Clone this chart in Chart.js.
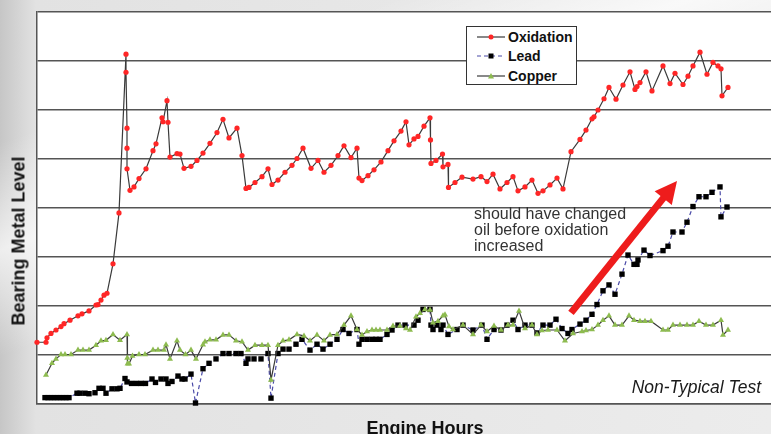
<!DOCTYPE html>
<html lang="en">
<head>
    <meta charset="UTF-8">
    <title>Bearing Metal Level vs Engine Hours</title>
    <script src="https://cdn.jsdelivr.net/npm/chart.js@4"></script>
    <style>
        html, body {
            margin: 0;
            padding: 0;
            width: 771px;
            height: 434px;
            overflow: hidden;
        }
        body {
            position: relative;
            font-family: "Liberation Sans", Arial, sans-serif;
            background-image:
                linear-gradient(160deg, rgba(255,255,255,0) 20%, rgba(255,255,255,0.7) 35%, rgba(255,255,255,0) 50%),
                linear-gradient(to right, #c6c6c6 0px, #e2e2e2 36px, #ececec 100%);
        }
        #chart {
            position: absolute;
            left: 0;
            top: 0;
        }
        .y-title {
            position: absolute;
            left: 19px;
            top: 241px;
            transform: translate(-50%, -50%) rotate(-90deg);
            font-size: 18px;
            font-weight: bold;
            color: #111;
            white-space: nowrap;
        }
        .x-title {
            position: absolute;
            left: 425px;
            top: 419px;
            transform: translateX(-50%);
            font-size: 18px;
            line-height: 18px;
            font-weight: bold;
            color: #111;
            white-space: nowrap;
        }
        .note {
            position: absolute;
            left: 474px;
            top: 206px;
            font-size: 16px;
            line-height: 16px;
            color: #333;
        }
        .test-label {
            position: absolute;
            right: 10px;
            top: 378px;
            font-size: 17.5px;
            line-height: 18px;
            font-style: italic;
            color: #1a1a1a;
            white-space: nowrap;
        }
        .legend {
            position: absolute;
            left: 466px;
            top: 26px;
            width: 109px;
            height: 57px;
            border: 1px solid #333;
            background: #fff;
        }
        .legend-row {
            height: 19.5px;
            display: flex;
            align-items: center;
            font-size: 14px;
            font-weight: bold;
            color: #111;
        }
        .legend-row svg {
            margin-left: 10px;
            margin-right: 3px;
        }
    </style>
</head>
<body>
    <canvas id="chart" width="771" height="434"></canvas>

    <div class="y-title">Bearing Metal Level</div>
    <div class="x-title">Engine Hours</div>
    <div class="note">should have changed<br>oil before oxidation<br>increased</div>
    <div class="test-label">Non-Typical Test</div>

    <div class="legend">
        <div class="legend-row">
            <svg width="28" height="10"><line x1="0" y1="5" x2="28" y2="5" stroke="#3a3a3a" stroke-width="1.2"/><circle cx="14" cy="5" r="2.5" fill="#ff2626"/></svg>
            <span>Oxidation</span>
        </div>
        <div class="legend-row">
            <svg width="28" height="10"><line x1="0" y1="5" x2="28" y2="5" stroke="#4a4aa8" stroke-width="1.2" stroke-dasharray="4,3"/><rect x="11.5" y="2.5" width="5" height="5" fill="#000"/></svg>
            <span>Lead</span>
        </div>
        <div class="legend-row">
            <svg width="28" height="10"><line x1="0" y1="5" x2="28" y2="5" stroke="#3a3a3a" stroke-width="1.2"/><polygon points="14,2 17,7.5 11,7.5" fill="#8dbb4f"/></svg>
            <span>Copper</span>
        </div>
    </div>

    <script>
        // Oxidation
        const oxHours = [0, 9, 10, 14, 19, 24, 27, 33, 41, 45, 52, 59, 61, 64, 67, 70, 76, 82, 89, 89,
            90, 90, 90, 93, 97, 102, 109, 116, 119, 125, 126, 130, 131, 133, 140, 143, 147, 154, 160, 166,
            173, 180, 186, 192, 200, 205, 209, 212, 218, 225, 231, 235, 241, 248, 255, 260, 266, 274, 281, 287,
            294, 301, 307, 314, 320, 322, 325, 331, 337, 344, 351, 357, 364, 369, 372, 377, 381, 387, 393, 393.5,
            394, 399, 405.5, 406, 411, 411.5, 418, 425, 436, 444, 450, 456, 463, 470, 476, 481, 488, 495, 501, 506,
            513, 520, 526, 534, 543, 549, 555, 557, 561, 567, 572, 579, 586, 593, 598, 600, 603, 609, 615, 626,
            633, 638, 646, 651, 656, 663, 670, 676, 681, 684, 685, 691];
        const oxLevel = [1.26, 1.26, 1.35, 1.44, 1.51, 1.58, 1.64, 1.71, 1.80, 1.84, 1.90, 2.02, 2.03, 2.12, 2.22, 2.26, 2.86, 3.90, 7.14, 6.77,
            5.63, 5.22, 4.80, 4.36, 4.43, 4.60, 4.80, 5.17, 5.31, 5.84, 5.76, 6.19, 5.75, 5.04, 5.11, 5.10, 4.81, 4.85, 4.97, 5.12,
            5.32, 5.54, 5.81, 5.43, 5.63, 5.07, 4.40, 4.42, 4.52, 4.64, 4.80, 4.48, 4.57, 4.73, 4.87, 5.01, 5.22, 4.81, 4.97, 4.73,
            4.87, 5.07, 5.27, 5.03, 5.22, 4.61, 4.56, 4.66, 4.78, 4.94, 5.17, 5.37, 5.57, 5.76, 5.29, 5.41, 5.46, 5.67, 5.84, 5.39,
            4.91, 4.97, 5.10, 4.84, 4.89, 4.42, 4.52, 4.63, 4.59, 4.64, 4.54, 4.69, 4.39, 4.52, 4.64, 4.35, 4.43, 4.57, 4.30, 4.35,
            4.47, 4.61, 4.39, 5.15, 5.40, 5.59, 5.82, 5.86, 6.00, 6.23, 6.46, 6.22, 6.51, 6.78, 6.42, 6.48, 6.56, 6.78, 6.39, 6.90,
            6.54, 6.75, 6.52, 6.69, 6.90, 7.18, 6.73, 6.97, 6.90, 6.84, 6.29, 6.46];

        // Lead
        const leadHours = [8, 11, 14, 17, 20, 23, 26, 29, 32, 40, 43, 48, 52, 58, 62, 66, 69, 75, 80, 83,
            88, 90, 94.5, 99.5, 104, 108.5, 115, 118.5, 124, 129, 131, 135, 141, 145, 148, 154, 158.5, 166, 172, 179,
            186, 192, 199, 204, 209, 211, 217, 224, 231, 234, 241, 246, 252, 259, 265, 273, 280, 286, 293, 300,
            306, 312, 320, 322, 325, 330, 335, 339, 343, 350, 355, 361, 368, 377, 381, 386, 393, 394, 396, 400,
            404, 406, 411, 420, 426, 436, 445, 450, 457, 464, 470, 476, 481, 488, 495, 500, 506, 513, 519, 525,
            531, 535, 543, 549, 555, 560, 566, 572, 578, 585, 591, 597, 600, 601, 607, 613, 626, 631, 636, 645,
            650, 656, 662, 669, 675, 683, 684, 690];
        const leadLevel = [0.13, 0.13, 0.13, 0.13, 0.13, 0.13, 0.13, 0.13, 0.13, 0.22, 0.22, 0.22, 0.21, 0.23, 0.32, 0.32, 0.22, 0.31, 0.31, 0.32,
            0.52, 0.45, 0.42, 0.42, 0.42, 0.42, 0.51, 0.44, 0.51, 0.51, 0.42, 0.46, 0.57, 0.51, 0.51, 0.61, 0.02, 0.72, 0.83, 0.92,
            1.03, 1.03, 1.03, 1.03, 0.83, 0.92, 0.92, 0.92, 1.03, 0.12, 1.03, 1.12, 1.12, 1.22, 1.32, 1.10, 1.22, 1.12, 1.22, 1.32,
            1.52, 1.44, 1.52, 1.22, 1.32, 1.32, 1.32, 1.32, 1.32, 1.42, 1.51, 1.61, 1.61, 1.61, 1.71, 1.93, 1.93, 1.61, 1.52, 1.61,
            1.52, 1.61, 1.42, 1.52, 1.61, 1.51, 1.61, 1.32, 1.52, 1.51, 1.61, 1.71, 1.52, 1.61, 1.61, 1.45, 1.61, 1.61, 1.73, 1.54,
            1.44, 1.52, 1.63, 1.71, 1.83, 2.03, 2.31, 2.43, 2.24, 2.65, 3.04, 2.85, 2.85, 2.94, 3.14, 3.03, 3.13, 3.22, 3.51, 3.51,
            3.71, 4.03, 4.23, 4.23, 4.32, 4.43, 3.82, 4.02];

        // Copper
        const cuHours = [9, 15, 19, 24, 28, 34, 41, 46, 52, 59, 64, 69, 76, 83, 90, 90.3, 90.6, 92, 95.5, 102,
            108, 116, 121, 127, 129, 133, 140, 143, 148.5, 154, 159, 166, 168, 173, 179, 186, 192, 199, 205, 211,
            218, 225, 231, 234, 241, 246, 252, 260, 267, 273, 280, 287, 293, 300, 307, 314, 320, 325, 330, 335,
            339, 343, 350, 356, 363, 369, 373, 379, 383, 388, 393, 396, 401, 406, 408, 412, 416, 426, 436, 444,
            450, 457, 464, 471, 476, 482, 488, 495, 500, 505, 511, 520, 528, 536, 545, 549, 555, 561, 566, 572,
            578, 585, 592, 597, 603, 608, 614, 626, 631, 636, 643, 650, 656, 662, 669, 676, 684, 686, 691];
        const cuLevel = [0.59, 0.83, 0.92, 1.01, 1.01, 1.01, 1.10, 1.10, 1.10, 1.20, 1.29, 1.30, 1.42, 1.30, 1.42, 0.94, 0.82, 0.82, 0.98, 1.01,
            1.01, 1.10, 1.10, 1.10, 1.21, 0.92, 1.29, 1.10, 1.01, 1.10, 0.92, 1.21, 1.27, 1.31, 1.31, 1.41, 1.41, 1.29, 1.27, 1.10,
            1.20, 1.20, 1.20, 0.49, 1.20, 1.29, 1.31, 1.42, 1.39, 1.29, 1.41, 1.29, 1.41, 1.42, 1.61, 1.80, 1.52, 1.41, 1.48, 1.51,
            1.51, 1.51, 1.51, 1.59, 1.59, 1.54, 1.51, 1.78, 1.85, 1.93, 1.92, 1.66, 1.69, 1.80, 1.82, 1.58, 1.52, 1.61, 1.42, 1.61,
            1.48, 1.59, 1.51, 1.61, 1.61, 1.90, 1.54, 1.61, 1.42, 1.50, 1.51, 1.51, 1.29, 1.44, 1.48, 1.50, 1.52, 1.61, 1.71, 1.80,
            1.61, 1.61, 1.80, 1.71, 1.69, 1.69, 1.69, 1.51, 1.51, 1.61, 1.61, 1.61, 1.61, 1.69, 1.61, 1.61, 1.71, 1.41, 1.51];

        // red arrow in the note, from / to in hours & level
        const arrowFrom = [534, 1.86];
        const arrowTo = [640, 4.55];

        function toPoints(xs, ys) {
            return xs.map((x, i) => ({ x: x, y: ys[i] }));
        }

        // white plot area behind the grid
        const plotBackground = {
            id: 'plotBackground',
            beforeDraw(chart) {
                const { ctx, chartArea: a } = chart;
                ctx.save();
                ctx.fillStyle = '#ffffff';
                ctx.fillRect(a.left, a.top, a.right - a.left, a.bottom - a.top);
                ctx.restore();
            }
        };

        // thick red arrow
        const noteArrow = {
            id: 'noteArrow',
            afterDatasetsDraw(chart) {
                const { ctx, scales } = chart;
                const x1 = scales.x.getPixelForValue(arrowFrom[0]);
                const y1 = scales.y.getPixelForValue(arrowFrom[1]);
                const x2 = scales.x.getPixelForValue(arrowTo[0]);
                const y2 = scales.y.getPixelForValue(arrowTo[1]);
                const ang = Math.atan2(y2 - y1, x2 - x1);
                const headLen = 22, headHalf = 11;
                const bx = x2 - Math.cos(ang) * headLen;
                const by = y2 - Math.sin(ang) * headLen;
                ctx.save();
                ctx.strokeStyle = '#ee1c1c';
                ctx.fillStyle = '#ee1c1c';
                ctx.lineWidth = 7;
                ctx.beginPath();
                ctx.moveTo(x1, y1);
                ctx.lineTo(bx + Math.cos(ang) * 2, by + Math.sin(ang) * 2);
                ctx.stroke();
                ctx.beginPath();
                ctx.moveTo(x2, y2);
                ctx.lineTo(bx - Math.sin(ang) * headHalf, by + Math.cos(ang) * headHalf);
                ctx.lineTo(bx + Math.sin(ang) * headHalf, by - Math.cos(ang) * headHalf);
                ctx.closePath();
                ctx.fill();
                ctx.restore();
            }
        };

        const ctx = document.getElementById('chart').getContext('2d');
        new Chart(ctx, {
            type: 'line',
            data: {
                datasets: [{
                    label: 'Oxidation',
                    data: toPoints(oxHours, oxLevel),
                    borderColor: '#3a3a3a',
                    borderWidth: 1.2,
                    pointStyle: 'circle',
                    pointRadius: 2.6,
                    pointBackgroundColor: '#ff2626',
                    pointBorderColor: '#ff2626',
                    pointBorderWidth: 0,
                    tension: 0,
                    clip: false
                },
                {
                    label: 'Copper',
                    data: toPoints(cuHours, cuLevel),
                    borderColor: '#3a3a3a',
                    borderWidth: 1.2,
                    pointStyle: 'triangle',
                    pointRadius: 3.5,
                    pointBackgroundColor: '#8dbb4f',
                    pointBorderColor: '#8dbb4f',
                    pointBorderWidth: 0,
                    tension: 0,
                    clip: false
                },
                {
                    label: 'Lead',
                    data: toPoints(leadHours, leadLevel),
                    borderColor: '#4a4aa8',
                    borderWidth: 1.2,
                    borderDash: [4, 3],
                    pointStyle: 'rect',
                    pointRadius: 3.8,
                    pointBackgroundColor: '#000000',
                    pointBorderColor: '#000000',
                    pointBorderWidth: 0,
                    tension: 0,
                    clip: false
                }]
            },
            options: {
                responsive: false,
                animation: false,
                events: [],
                layout: {
                    autoPadding: false,
                    padding: { left: 37, top: 12, right: 0, bottom: 30 }
                },
                plugins: {
                    legend: { display: false },
                    tooltip: { enabled: false }
                },
                scales: {
                    x: {
                        type: 'linear',
                        min: 0,
                        max: 734,
                        grid: { display: false, drawTicks: false },
                        border: { display: true, color: '#555555', width: 1.5 },
                        ticks: { display: false }
                    },
                    y: {
                        min: 0,
                        max: 8,
                        grid: { color: '#555555', lineWidth: 1.5, drawTicks: false },
                        border: { display: true, color: '#555555', width: 1.5 },
                        ticks: { display: false, stepSize: 1 }
                    }
                }
            },
            plugins: [plotBackground, noteArrow]
        });
    </script>
</body>
</html>
